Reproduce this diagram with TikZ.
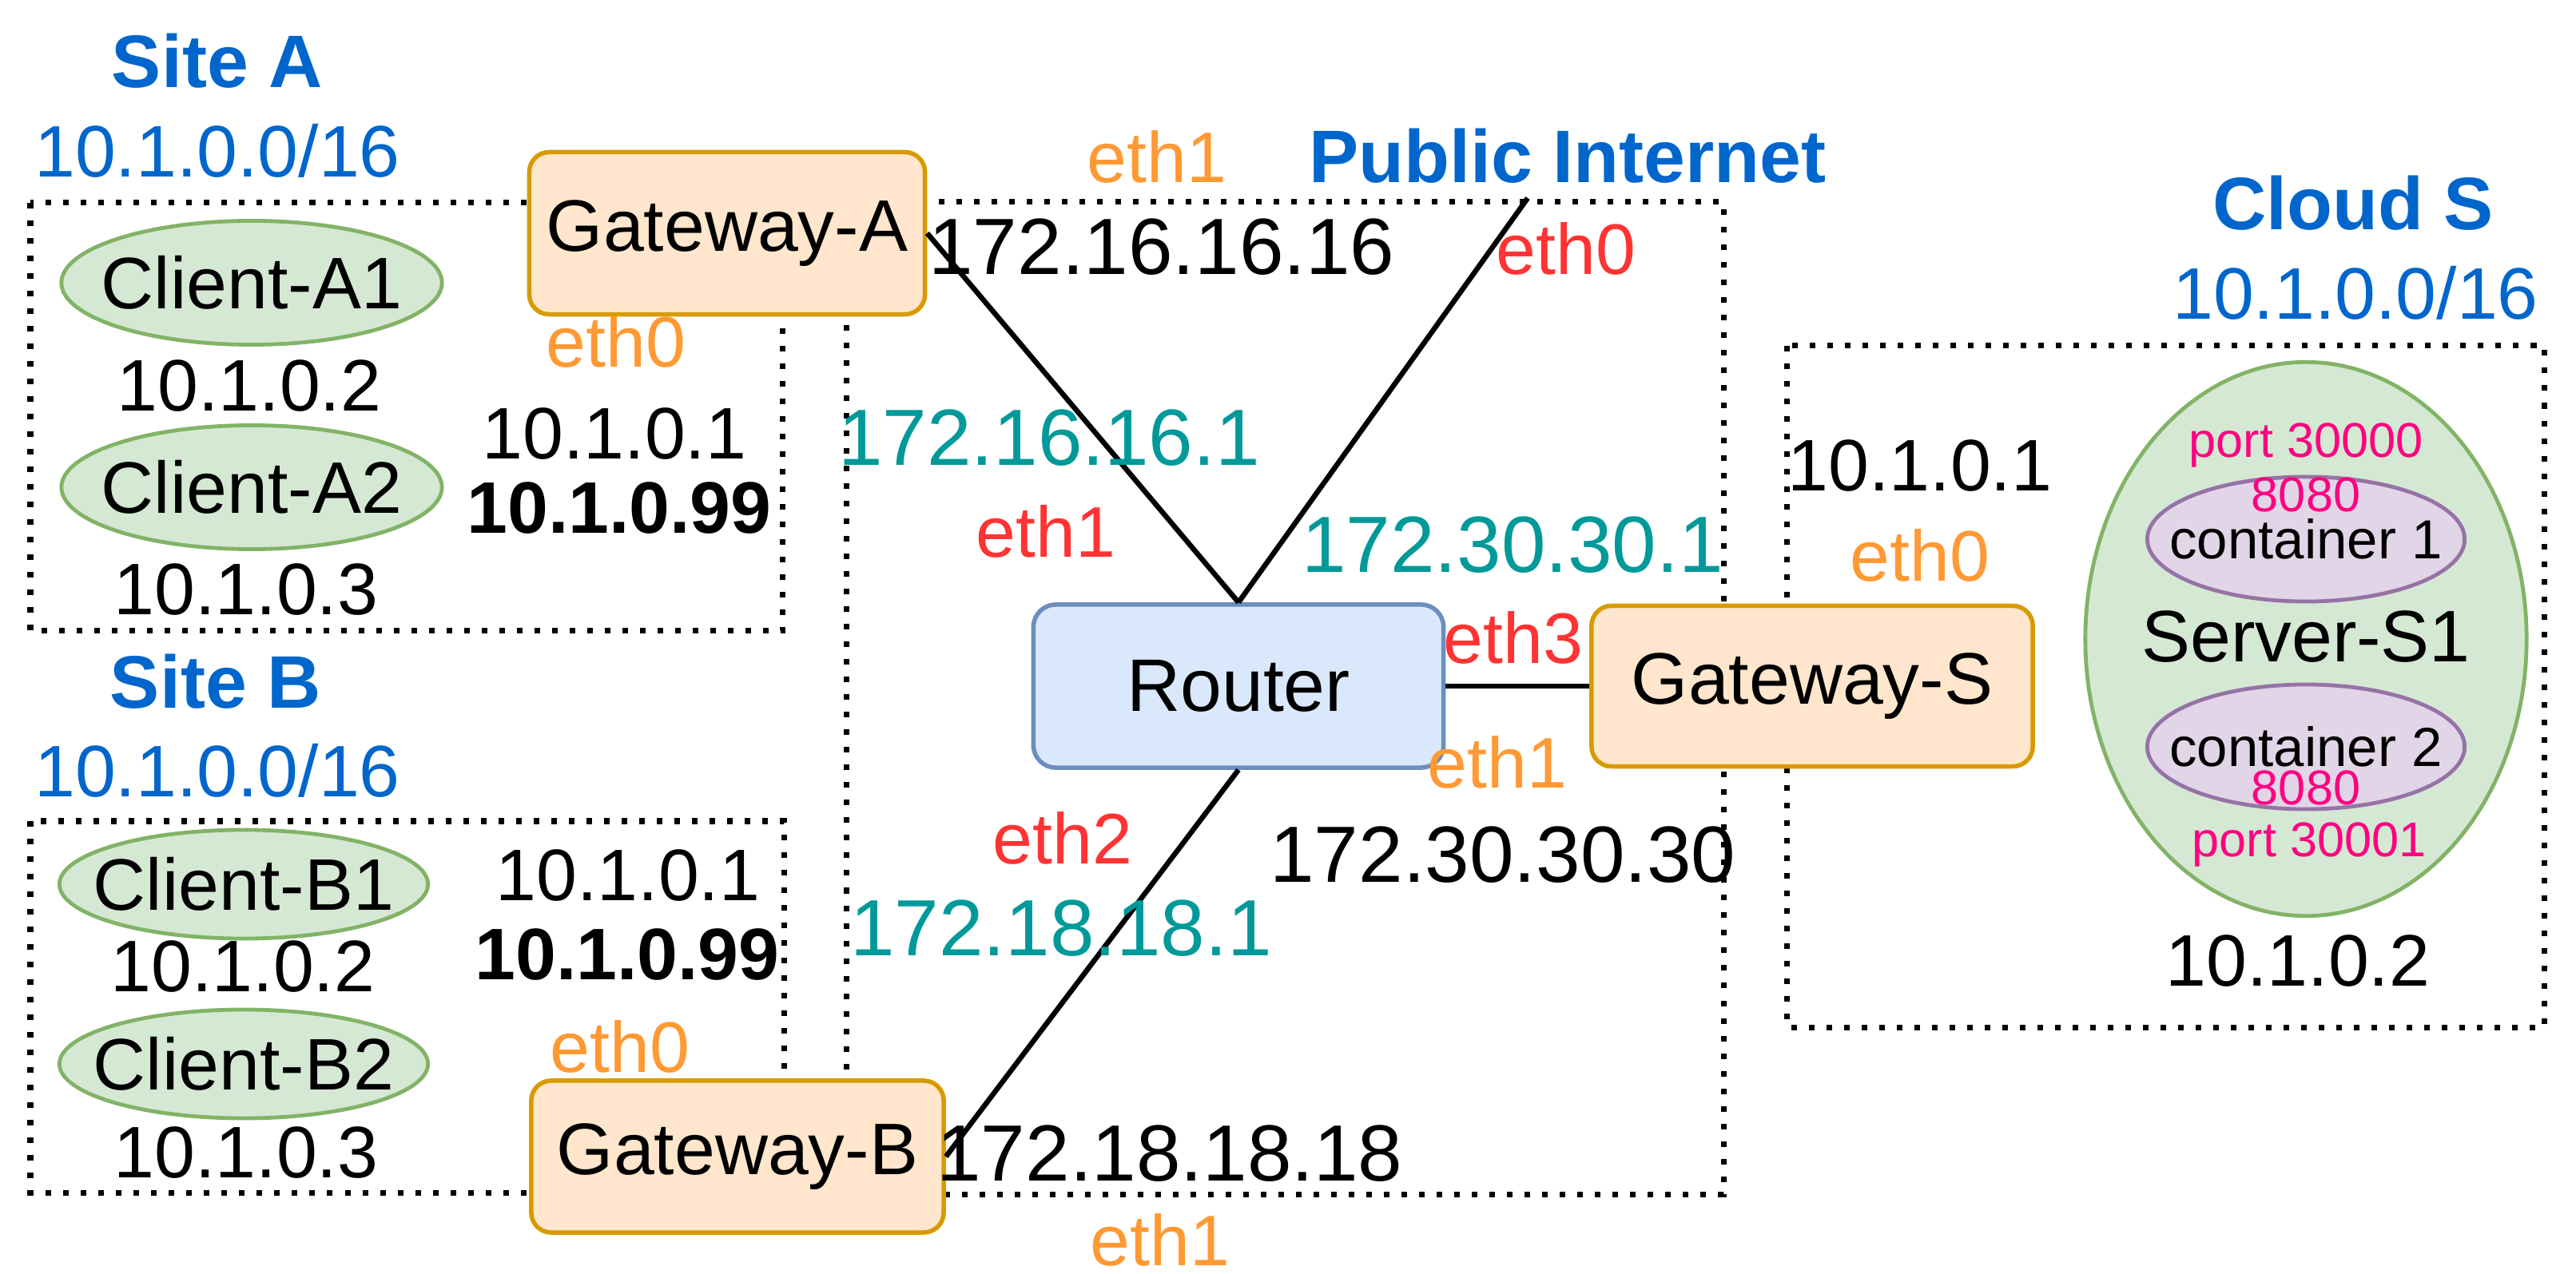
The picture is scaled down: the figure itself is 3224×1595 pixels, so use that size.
\documentclass[tikz,border=0pt]{standalone}
\usepackage{fontspec}
\setmainfont{Liberation Sans}
\usepackage{tikz}
\usetikzlibrary{shapes.geometric}
\definecolor{siteblue}{HTML}{0066CC}
\definecolor{ethorange}{HTML}{FF9933}
\definecolor{ethred}{HTML}{FF3333}
\definecolor{ipteal}{HTML}{009999}
\definecolor{portpink}{HTML}{FF0080}
\definecolor{gwfill}{HTML}{FFE6CC}
\definecolor{gwdraw}{HTML}{D79B00}
\definecolor{clfill}{HTML}{D5E8D4}
\definecolor{cldraw}{HTML}{82B366}
\definecolor{rtfill}{HTML}{DAE8FC}
\definecolor{rtdraw}{HTML}{6C8EBF}
\definecolor{ctfill}{HTML}{E1D5E7}
\definecolor{ctdraw}{HTML}{9673A6}

\begin{document}
\begin{tikzpicture}[x=0.01cm, y=-0.01cm,
    lbl/.style={inner sep=0pt, anchor=base, font=\fontsize{26}{30}\selectfont},
    boldlbl/.style={lbl, font=\fontsize{26}{30}\selectfont\bfseries},
    biglbl/.style={lbl, font=\fontsize{28.4}{32}\selectfont},
    ethlbl/.style={lbl, font=\fontsize{25.5}{30}\selectfont},
    portlbl/.style={lbl, text=portpink, font=\fontsize{17.4}{20}\selectfont},
    title/.style={lbl, text=siteblue, font=\fontsize{26.5}{30}\selectfont\bfseries},
    net/.style={lbl, text=siteblue},
    intxt/.style={inner sep=0pt, font=\fontsize{26}{30}\selectfont},
    cttxt/.style={inner sep=0pt, font=\fontsize{19.6}{22}\selectfont},
    gateway/.style={draw=gwdraw, fill=gwfill, line width=0.055cm, rounded corners=0.25cm, inner sep=0pt, font=\fontsize{26}{30}\selectfont},
    router/.style={draw=rtdraw, fill=rtfill, line width=0.055cm, rounded corners=0.28cm, inner sep=0pt, minimum width=5.13cm, minimum height=2.04cm, font=\fontsize{26.5}{30}\selectfont},
    client/.style={ellipse, draw=cldraw, fill=clfill, line width=0.048cm, inner sep=0pt},
    container/.style={ellipse, draw=ctdraw, fill=ctfill, line width=0.048cm, inner sep=0pt, minimum width=3.97cm, minimum height=1.56cm},
    dotbox/.style={line width=0.07cm, dash pattern=on 0.07cm off 0.15cm},
    link/.style={line width=0.065cm}]
    \useasboundingbox (0,0) rectangle (3224,1595);
    \draw[dotbox] (38,254) rectangle (979,790);
    \draw[dotbox] (38,1028) rectangle (981,1493);
    \draw[dotbox] (1059,253) rectangle (2157,1495);
    \draw[dotbox] (2236,433) rectangle (3184,1286);
    \node[title] (SiteA) at (272,110) {Site A};
    \node[net] (NetA) at (272,222) {10.1.0.0/16};
    \node[client, minimum width=4.76cm, minimum height=1.55cm, label={[intxt]center:Client-A1}] (ClientA1) at (315,354) {};
    \node[lbl] (IpA1) at (312,515) {10.1.0.2};
    \node[client, minimum width=4.76cm, minimum height=1.55cm, label={[intxt]center:Client-A2}] (ClientA2) at (315,610) {};
    \node[lbl] (IpA2) at (308,770) {10.1.0.3};
    \node[ethlbl, text=ethorange] (EthA0) at (771,460) {eth0};
    \node[lbl] (IpGwA) at (769,575) {10.1.0.1};
    \node[boldlbl] (VipA) at (775,668) {10.1.0.99};
    \node[title] (SiteB) at (270,887) {Site B};
    \node[net] (NetB) at (272,998) {10.1.0.0/16};
    \node[client, minimum width=4.61cm, minimum height=1.36cm, label={[intxt]center:Client-B1}] (ClientB1) at (305,1107) {};
    \node[lbl] (IpB1) at (304,1241) {10.1.0.2};
    \node[client, minimum width=4.61cm, minimum height=1.36cm, label={[intxt]center:Client-B2}] (ClientB2) at (305,1332) {};
    \node[lbl] (IpB2) at (308,1474) {10.1.0.3};
    \node[lbl] (IpGwB) at (786,1127) {10.1.0.1};
    \node[boldlbl] (VipB) at (785,1226) {10.1.0.99};
    \node[ethlbl, text=ethorange] (EthB0) at (776,1342) {eth0};
    \node[title] (Inet) at (1962,229) {Public Internet};
    \node[gateway, minimum width=4.95cm, minimum height=2.03cm] (GwA) at (910,292) {Gateway-A};
    \node[gateway, minimum width=5.16cm, minimum height=1.90cm] (GwB) at (923,1448) {Gateway-B};
    \node[router] (Router) at (1550,859) {Router};
    \node[gateway, minimum width=5.52cm, minimum height=2.01cm] (GwS) at (2268,859) {Gateway-S};
    \coordinate (Uplink) at (1912,248);
    \draw[link] (GwA.east) -- (Router.north);
    \draw[link] (Router.north) -- (Uplink);
    \draw[link] (Router.south) -- (GwB.east);
    \draw[link] (Router.east) -- (GwS.west);
    \node[ethlbl, text=ethorange] (EthA1) at (1448,229) {eth1};
    \node[biglbl] (PubA) at (1454,344) {172.16.16.16};
    \node[ethlbl, text=ethred] (EthR0) at (1960,344) {eth0};
    \node[biglbl, text=ipteal] (RtA) at (1313,583) {172.16.16.1};
    \node[ethlbl, text=ethred] (EthR1) at (1309,698) {eth1};
    \node[biglbl, text=ipteal] (RtS) at (1893,717) {172.30.30.1};
    \node[ethlbl, text=ethred] (EthR3) at (1894,831) {eth3};
    \node[ethlbl, text=ethorange] (EthS1) at (1874,987) {eth1};
    \node[biglbl] (PubS) at (1881,1104) {172.30.30.30};
    \node[ethlbl, text=ethred] (EthR2) at (1330,1081) {eth2};
    \node[biglbl, text=ipteal] (RtB) at (1328,1196) {172.18.18.1};
    \node[biglbl] (PubB) at (1464,1478) {172.18.18.18};
    \node[ethlbl, text=ethorange] (EthB1) at (1452,1584) {eth1};
    \node[title] (CloudS) at (2945,288) {Cloud S};
    \node[net] (NetS) at (2948,400) {10.1.0.0/16};
    \node[lbl] (IpGwS) at (2403,615) {10.1.0.1};
    \node[ethlbl, text=ethorange] (EthS0) at (2403,728) {eth0};
    \node[client, minimum width=5.52cm, minimum height=6.93cm] (Server) at (2886,800) {};
    \node[container, label={[cttxt]center:container 1}] (Ct1) at (2886,675) {};
    \node[container, label={[cttxt]center:container 2}] (Ct2) at (2886,935) {};
    \node[lbl] (ServerLbl) at (2886,829) {Server-S1};
    \node[portlbl] (Port1) at (2886,573) {port 30000};
    \node[portlbl] (Inner1) at (2886,641) {8080};
    \node[portlbl] (Inner2) at (2886,1008) {8080};
    \node[portlbl] (Port2) at (2890,1072) {port 30001};
    \node[lbl] (IpS1) at (2876,1234) {10.1.0.2};
\end{tikzpicture}
\end{document}
